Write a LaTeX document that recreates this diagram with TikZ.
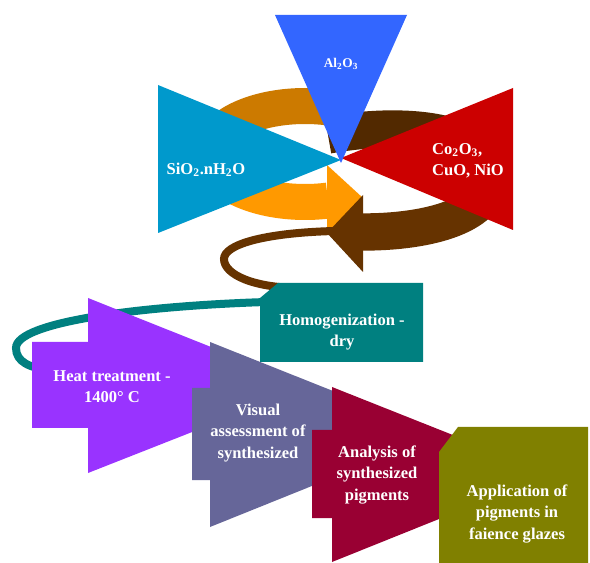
\documentclass[tikz,border=0pt]{standalone}
\usepackage{fontspec}
\setmainfont{Liberation Serif}
\definecolor{cblue}{HTML}{3366FF}
\definecolor{ccyan}{HTML}{0099CC}
\definecolor{cred}{HTML}{CC0000}
\definecolor{corangeD}{HTML}{CC7A00}
\definecolor{corange}{HTML}{FF9900}
\definecolor{cbrownD}{HTML}{522900}
\definecolor{cbrown}{HTML}{663300}
\definecolor{cteal}{HTML}{008080}
\definecolor{cpurple}{HTML}{9933FF}
\definecolor{cslate}{HTML}{666699}
\definecolor{cmaroon}{HTML}{990033}
\definecolor{colive}{HTML}{808000}
\begin{document}
\begin{tikzpicture}[x=0.75pt,y=-0.75pt,
  lbl/.style={text=white,font=\bfseries\fontsize{12.4}{16}\selectfont,align=center,inner sep=0pt},
  wideband/.style={line width=28pt,line cap=butt},
  thinband/.style={line width=6pt,line cap=butt}]
\useasboundingbox (0,0) rectangle (590,563);
\fill[white] (0,0) rectangle (590,563);
% back parts of the swirls
\draw[cbrownD,wideband] (328,135) .. controls (400,122) and (488,128) .. (490,175);
\draw[corangeD,line width=27pt,line cap=butt] plot[domain=-75:-180,samples=50] ({305+95*cos(\x)},{154+48*sin(\x)});
% front orange band and head
\draw[corange,line width=27pt,line cap=butt] plot[domain=-180:-284,samples=50] ({305+95*cos(\x)},{154+48*sin(\x)});
\fill[corange] (327,165) -- (363,198) -- (327,233) -- cycle;
% thin brown tail
\draw[cbrown,thinband] (334,231) .. controls (262,233) and (224,245) .. (224,259) .. controls (224,275) and (255,288) .. (300,288);
% front brown band and head
\draw[cbrown,wideband] (490,175) .. controls (492,215) and (430,232) .. (363,232);
\fill[cbrown] (363,195) -- (327,233) -- (363,272) -- cycle;
% triangles
\fill[ccyan] (158,85) -- (341,160) -- (158,233) -- cycle;
\fill[cred] (513,88) -- (341,158) -- (513,230) -- cycle;
\fill[cblue] (275,15) -- (407,15) -- (341,163) -- cycle;
% teal band and box
\draw[cteal,thinband] (266,302) .. controls (140,306) and (16,322) .. (16,348) .. controls (16,362) and (30,368) .. (50,370);
\fill[cteal] (260,298) -- (278,283) -- (423,283) -- (423,362) -- (260,362) -- cycle;
% arrows
\fill[cpurple] (32,342) -- (88,342) -- (88,298) -- (309,386) -- (88,473) -- (88,428) -- (32,428) -- cycle;
\fill[cslate] (192,388) -- (210,388) -- (210,342) -- (441,434) -- (210,527) -- (210,480) -- (192,480) -- cycle;
\fill[cmaroon] (312,430) -- (332,430) -- (332,387) -- (551,474) -- (332,562) -- (332,518) -- (312,518) -- cycle;
\fill[colive] (439,452) -- (458,427) -- (588,427) -- (588,563) -- (439,563) -- cycle;
% labels
\node[lbl,font=\bfseries\fontsize{10}{12}\selectfont] (al) at (341,64) {Al\textsubscript{2}O\textsubscript{3}};
\node[lbl] (si) at (206,170) {SiO\textsubscript{2}.nH\textsubscript{2}O};
\node[lbl,align=left] (co) at (468,161) {Co\textsubscript{2}O\textsubscript{3},\\CuO, NiO};
\node[lbl] (hom) at (342,332) {Homogenization -\\dry};
\node[lbl] (heat) at (112,387) {Heat treatment -\\1400° C};
\node[lbl] (vis) at (258,433) {Visual\\assessment of\\synthesized};
\node[lbl] (ana) at (377,475) {Analysis of\\synthesized\\pigments};
\node[lbl] (app) at (517,514) {Application of\\pigments in\\faience glazes};
\end{tikzpicture}
\end{document}
